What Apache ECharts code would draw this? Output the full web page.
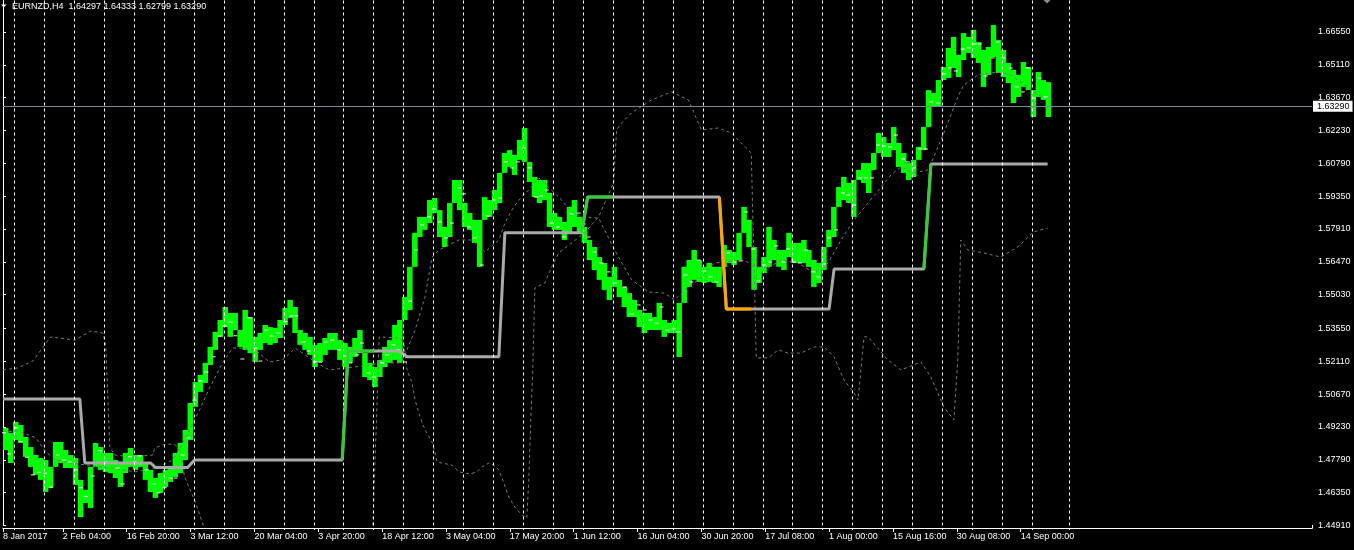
<!DOCTYPE html>
<html><head><meta charset="utf-8">
<script src="https://cdn.jsdelivr.net/npm/echarts@6/dist/echarts.min.js"></script>
<style>html,body{margin:0;padding:0;background:#000;}#c{width:1354px;height:550px;}</style>
</head><body><div id="c"></div>
<script>
const chartTitle = 'EURNZD,H4  1.64297 1.64333 1.62799 1.63290';
const lastPrice = 1.63290;
const timeLabels = ['8 Jan 2017','2 Feb 04:00','16 Feb 20:00','3 Mar 12:00','20 Mar 04:00','3 Apr 20:00','18 Apr 12:00','3 May 04:00','17 May 20:00','1 Jun 12:00','16 Jun 04:00','30 Jun 20:00','17 Jul 08:00','1 Aug 00:00','15 Aug 16:00','30 Aug 08:00','14 Sep 00:00'];
const timeLabelBars = [0,60,124,188,252,316,380,444,508,572,636,700,764,828,892,956,1020];
const priceLabels = [1.44910,1.46350,1.47790,1.49230,1.50670,1.52110,1.53550,1.55030,1.56470,1.57910,1.59350,1.60790,1.62230,1.63670,1.65110,1.66550];
const gridLineBars = [11.5,41.5,71.5,101.5,131.5,161.5,191.5,221.5,251.5,281.5,311.5,341.5,371.5,401.5,431.5,461.5,491.5,521.5,551.5,581.5,611.5,641.5,671.5,701.5,731.5,761.5,791.5,821.5,851.5,881.5,911.5,941.5,971.5,1001.5,1031.5,1068.5];
const priceMin = 1.44910, priceMax = 1.67950;
const barSpan = 5;
// price range per 5-bar bucket (bar index of bucket start)
const barX = [0,5,10,15,20,25,30,35,40,45,50,55,60,65,70,75,80,85,90,95,100,105,110,115,120,125,130,135,140,145,150,155,160,165,170,175,180,185,190,195,200,205,210,215,220,225,230,235,240,245,250,255,260,265,270,275,280,285,290,295,300,305,310,315,320,325,330,335,340,345,350,355,360,365,370,375,380,385,390,395,400,405,410,415,420,425,430,435,440,445,450,455,460,465,470,475,480,485,490,495,500,505,510,515,520,525,530,535,540,545,550,555,560,565,570,575,580,585,590,595,600,605,610,615,620,625,630,635,640,645,650,655,660,665,670,675,680,685,690,695,700,705,710,715,720,725,730,735,740,745,750,755,760,765,770,775,780,785,790,795,800,805,810,815,820,825,830,835,840,845,850,855,860,865,870,875,880,885,890,895,900,905,910,915,920,925,930,935,940,945,950,955,960,965,970,975,980,985,990,995,1000,1005,1010,1015,1020,1025,1030,1035,1040,1045];
const barHigh = [1.4919,1.4897,1.4945,1.4932,1.4879,1.4835,1.4800,1.4787,1.4778,1.4704,
1.4857,1.4857,1.4822,1.4800,1.4787,1.4691,1.4647,1.4748,1.4853,1.4835,
1.4809,1.4809,1.4778,1.4765,1.4809,1.4831,1.4800,1.4800,1.4765,1.4735,
1.4699,1.4721,1.4735,1.4748,1.4809,1.4853,1.4910,1.5028,1.5120,1.5151,
1.5204,1.5274,1.5340,1.5392,1.5449,1.5423,1.5423,1.5348,1.5436,1.5405,
1.5318,1.5335,1.5370,1.5361,1.5357,1.5392,1.5445,1.5480,1.5449,1.5348,
1.5335,1.5318,1.5283,1.5291,1.5313,1.5335,1.5335,1.5304,1.5291,1.5274,
1.5313,1.5348,1.5247,1.5204,1.5186,1.5217,1.5274,1.5304,1.5370,1.5348,
1.5493,1.5537,1.5774,1.5844,1.5844,1.5918,1.5927,1.5874,1.5800,1.5861,
1.6006,1.6006,1.5905,1.5861,1.5831,1.5743,1.5931,1.5918,1.5962,1.5962,
1.6124,1.6137,1.6116,1.6181,1.6234,1.6085,1.6019,1.6006,1.6006,1.5949,
1.5861,1.5844,1.5822,1.5888,1.5918,1.5844,1.5800,1.5743,1.5712,1.5668,
1.5642,1.5581,1.5625,1.5568,1.5537,1.5510,1.5480,1.5436,1.5423,1.5423,
1.5405,1.5467,1.5392,1.5379,1.5392,1.5379,1.5625,1.5655,1.5699,1.5655,
1.5625,1.5642,1.5625,1.5625,1.5721,1.5699,1.5690,1.5774,1.5888,1.5831,
1.5712,1.5625,1.5668,1.5800,1.5743,1.5699,1.5699,1.5774,1.5730,1.5730,
1.5743,1.5699,1.5655,1.5642,1.5699,1.5787,1.5888,1.5975,1.6019,1.5993,
1.5993,1.6050,1.6080,1.6080,1.6124,1.6212,1.6194,1.6168,1.6238,1.6168,
1.6124,1.6080,1.6094,1.6151,1.6194,1.6400,1.6387,1.6414,1.6501,1.6585,
1.6633,1.6554,1.6650,1.6633,1.6664,1.6611,1.6576,1.6589,1.6685,1.6620,
1.6576,1.6519,1.6488,1.6466,1.6523,1.6501,1.6400,1.6479,1.6444,1.6435];
const barLow = [1.4822,1.4765,1.4866,1.4853,1.4792,1.4748,1.4713,1.4691,1.4638,1.4656,
1.4748,1.4765,1.4743,1.4743,1.4669,1.4528,1.4590,1.4568,1.4748,1.4735,
1.4726,1.4721,1.4699,1.4660,1.4721,1.4748,1.4735,1.4748,1.4691,1.4638,
1.4612,1.4634,1.4660,1.4682,1.4704,1.4721,1.4778,1.4866,1.5011,1.5077,
1.5116,1.5195,1.5261,1.5318,1.5361,1.5318,1.5348,1.5274,1.5261,1.5247,
1.5208,1.5261,1.5291,1.5283,1.5291,1.5313,1.5370,1.5401,1.5335,1.5283,
1.5261,1.5239,1.5186,1.5208,1.5239,1.5261,1.5261,1.5217,1.5186,1.5204,
1.5230,1.5247,1.5142,1.5129,1.5098,1.5142,1.5186,1.5204,1.5217,1.5204,
1.5392,1.5436,1.5625,1.5756,1.5787,1.5817,1.5861,1.5756,1.5712,1.5756,
1.5905,1.5874,1.5800,1.5787,1.5730,1.5625,1.5831,1.5844,1.5874,1.5905,
1.6037,1.6063,1.6028,1.6094,1.6107,1.5997,1.5931,1.5905,1.5918,1.5800,
1.5787,1.5787,1.5743,1.5774,1.5800,1.5774,1.5730,1.5655,1.5611,1.5568,
1.5524,1.5480,1.5537,1.5493,1.5449,1.5405,1.5405,1.5361,1.5335,1.5348,
1.5348,1.5348,1.5318,1.5335,1.5335,1.5230,1.5467,1.5537,1.5568,1.5559,
1.5554,1.5559,1.5554,1.5537,1.5625,1.5642,1.5633,1.5655,1.5774,1.5712,
1.5524,1.5554,1.5598,1.5625,1.5655,1.5625,1.5611,1.5668,1.5642,1.5642,
1.5642,1.5625,1.5537,1.5554,1.5611,1.5712,1.5756,1.5888,1.5918,1.5905,
1.5844,1.6006,1.5993,1.5949,1.6050,1.6124,1.6107,1.6107,1.6137,1.6063,
1.6037,1.6006,1.6019,1.6094,1.6137,1.6238,1.6326,1.6326,1.6444,1.6453,
1.6497,1.6457,1.6532,1.6563,1.6541,1.6519,1.6414,1.6466,1.6545,1.6475,
1.6457,1.6431,1.6343,1.6370,1.6414,1.6400,1.6282,1.6370,1.6357,1.6282];
// white daily markers
const markX = [1,6,13,18,24,30,36,42,48,55,61,67,73,78,83,90,97,103,108,115,120,127,132,137,144,151,156,162,168,173,180,186,192,198,204,211,217,222,228,233,240,247,253,258,264,269,276,283,289,294,301,306,313,318,324,330,337,343,348,355,360,366,372,380,385,391,396,403,408,414,420,427,432,438,444,450,457,462,467,473,480,486,492,498,504,510,516,522,528,534,539,545,550,556,562,570,577,582,587,593,600,607,613,623,630,637,643,649,655,660,666,672,677,684,690,697,703,709,715,727,733,739,745,752,757,763,769,775,782,787,793,799,805,812,817,823,828,835,842,847,853,859,865,871,877,883,889,895,902,907,913,919,925,930,937,943,949,955,962,968,974,979,985,992,997,1003,1010,1016,1022,1027,1033,1039,1045];
const markY = [1.4898,1.4805,1.4920,1.4859,1.4790,1.4713,1.4724,1.4720,1.4659,1.4800,1.4778,1.4770,1.4735,1.4657,1.4618,1.4708,1.4819,1.4770,1.4765,1.4743,1.4673,1.4793,1.4770,1.4796,1.4735,1.4673,1.4634,1.4657,1.4699,1.4699,1.4800,1.4875,1.5041,1.5125,1.5164,1.5231,1.5322,1.5366,1.5383,1.5323,1.5221,1.5401,1.5269,1.5212,1.5348,1.5322,1.5335,1.5385,1.5410,1.5410,1.5296,1.5256,1.5209,1.5207,1.5296,1.5304,1.5261,1.5234,1.5204,1.5239,1.5291,1.5160,1.5142,1.5204,1.5239,1.5283,1.5261,1.5208,1.5475,1.5699,1.5809,1.5844,1.5879,1.5822,1.5752,1.5817,1.5971,1.5945,1.5800,1.5752,1.5633,1.5848,1.5918,1.5927,1.6085,1.6059,1.6085,1.6146,1.6059,1.5931,1.5936,1.5962,1.5817,1.5800,1.5756,1.5857,1.5861,1.5813,1.5756,1.5690,1.5642,1.5603,1.5554,1.5537,1.5418,1.5458,1.5436,1.5392,1.5379,1.5449,1.5348,1.5353,1.5340,1.5589,1.5559,1.5655,1.5607,1.5581,1.5559,1.5686,1.5646,1.5651,1.5866,1.5703,1.5563,1.5633,1.5646,1.5717,1.5646,1.5703,1.5646,1.5642,1.5699,1.5603,1.5581,1.5638,1.5752,1.5787,1.5949,1.5940,1.5896,1.6015,1.6015,1.6015,1.6159,1.6155,1.6151,1.6203,1.6098,1.6085,1.6059,1.6142,1.6142,1.6348,1.6343,1.6471,1.6497,1.6484,1.6580,1.6585,1.6602,1.6602,1.6462,1.6541,1.6611,1.6541,1.6497,1.6414,1.6392,1.6497,1.6365,1.6453,1.6370];
// thick step indicator
const stepX = [0,77,82,148,153,185,192,340,346,397,405,497,503,580,586,718,725,828,833,923,930,1047];
const stepY = [1.5046,1.5046,1.4765,1.4765,1.4745,1.4745,1.4778,1.4778,1.5256,1.5256,1.5231,1.5231,1.5775,1.5775,1.5931,1.5931,1.5440,1.5440,1.5616,1.5616,1.6076,1.6076];
const stepUpX = [340,346,372,null,580,586,611,null,923,930];
const stepUpY = [1.4778,1.5256,1.5256,null,1.5775,1.5931,1.5931,null,1.5616,1.6076];
const stepDownX = [718,725,750];
const stepDownY = [1.5931,1.5440,1.5440];
// dotted indicator lines
const outerX = [0,15,30,43,48,72,88,100,103,107,112,130,150,152,160,167,173,178,182,192,202,210,370,375,377,398,402,405,410,413,418,423,430,433,435,440,450,457,468,475,480,487,492,497,502,507,513,520,525,527,529,531,533,543,550,557,583,597,612,615,620,630,650,670,687,700,717,730,747,750,755,767,777,787,800,813,823,833,843,853,857,863,867,887,900,920,930,943,953,957,960,967,983,1000,1017,1033,1047];
const outerY = [1.5173,1.5182,1.5212,1.5291,1.5318,1.5304,1.5344,1.5335,1.5283,1.4835,1.4800,1.4792,1.4800,1.4831,1.4844,1.4848,1.4844,1.4809,1.4704,1.4603,1.4476,1.4406,1.4406,1.5041,1.5318,1.5313,1.5283,1.5173,1.5116,1.5041,1.4967,1.4910,1.4857,1.4813,1.4770,1.4765,1.4756,1.4726,1.4717,1.4726,1.4748,1.4765,1.4756,1.4735,1.4678,1.4616,1.4572,1.4537,1.4524,1.4691,1.4954,1.5173,1.5532,1.5554,1.5625,1.5686,1.5774,1.5844,1.5993,1.6225,1.6256,1.6300,1.6357,1.6392,1.6357,1.6225,1.6234,1.6212,1.6137,1.6124,1.5226,1.5226,1.5261,1.5247,1.5247,1.5274,1.5274,1.5230,1.5129,1.5072,1.5041,1.5318,1.5318,1.5217,1.5173,1.5208,1.5142,1.5011,1.4954,1.5217,1.5743,1.5699,1.5686,1.5668,1.5712,1.5778,1.5795];
const midX = [0,15,33,43,53,67,100,133,157,170,182,197,207,220,230,240,253,267,280,293,313,327,343,360,380,397,402,413,423,430,437,457,470,483,497,503,510,517,527,537,560,570,583,597,613,630,647,663,673,687,697,713,743,753,767,780,797,813,827,840,853,867,880,890,900,913,927,933,940,947,957,963,977,997,1010,1027,1037,1047];
const midY = [1.4901,1.4906,1.4875,1.4813,1.4778,1.4765,1.4748,1.4726,1.4748,1.4778,1.4866,1.4998,1.5094,1.5204,1.5269,1.5269,1.5261,1.5208,1.5217,1.5269,1.5208,1.5173,1.5182,1.5190,1.5204,1.5204,1.5230,1.5348,1.5493,1.5668,1.5699,1.5743,1.5743,1.5690,1.5743,1.5817,1.5874,1.5918,1.5962,1.6015,1.5918,1.5861,1.5844,1.5839,1.5699,1.5568,1.5515,1.5510,1.5480,1.5537,1.5568,1.5642,1.5655,1.5625,1.5620,1.5655,1.5642,1.5598,1.5642,1.5743,1.5831,1.5905,1.5975,1.6028,1.6063,1.6037,1.6050,1.6107,1.6181,1.6256,1.6370,1.6422,1.6466,1.6479,1.6466,1.6414,1.6378,1.6365];

const FONT = '"Liberation Sans", Arial, sans-serif';
const pairs = (xs, ys) => xs.map((x, i) => (x === null ? null : [x, ys[i]]));
const labelMap = {};
timeLabelBars.forEach((b, i) => { labelMap[b] = timeLabels[i]; });

const chart = echarts.init(document.getElementById('c'), null, {renderer: 'canvas'});
chart.setOption({
  backgroundColor: '#000',
  animation: false,
  grid: {left: 0, right: 42, top: 0, bottom: 24.5, containLabel: false},
  xAxis: [{
    type: 'value', min: 0, max: 1312, offset: 2.5, position: 'bottom',
    axisLine: {show: true, lineStyle: {color: '#fff', width: 1}},
    axisTick: {show: true, customValues: timeLabelBars, length: 4, lineStyle: {color: '#fff'}},
    axisLabel: {show: true, customValues: timeLabelBars, color: '#fff', fontSize: 9, fontFamily: FONT, align: 'left', margin: 4,
      formatter: v => labelMap[v] || ''},
    splitLine: {show: false}
  }, {
    type: 'value', min: 0, max: 1312, offset: 2.5, position: 'bottom',
    axisLine: {show: false},
    axisTick: {show: true, customValues: gridLineBars, length: 2, lineStyle: {color: '#fff'}},
    axisLabel: {show: false},
    splitLine: {show: false}
  }],
  yAxis: {
    type: 'value', position: 'right', min: priceMin, max: priceMax,
    axisLine: {show: true, lineStyle: {color: '#fff', width: 1}},
    axisTick: {show: true, length: 3, customValues: priceLabels, lineStyle: {color: '#fff'}},
    axisLabel: {color: '#fff', fontSize: 9, fontFamily: FONT, margin: 6, customValues: priceLabels,
      formatter: v => v.toFixed(5)},
    splitLine: {show: false}
  },
  graphic: [
    {type: 'polygon', shape: {points: [[1, 4.5], [6.5, 4.5], [3.75, 7.5]]}, style: {fill: '#fff'}, z: 100},
    {type: 'text', left: 12, top: 2, style: {text: chartTitle, fill: '#fff', fontSize: 9, fontFamily: FONT}, z: 100},
    {type: 'polygon', shape: {points: [[1043.5, 0], [1050.5, 0], [1047, 3.5]]}, style: {fill: '#8c8c8c'}, z: 100},
    {type: 'line', shape: {x1: 1312.5, y1: 525, x2: 1312.5, y2: 528.5}, style: {stroke: '#fff', lineWidth: 1}, z: 100}
  ],
  series: [
    {
      type: 'line', data: [], z: 1, silent: true,
      markLine: {silent: true, symbol: ['none', 'none'], label: {show: false}, animation: false, precision: 2,
        lineStyle: {color: '#ffffff', type: [3, 3], width: 1},
        data: gridLineBars.map(v => ({xAxis: v}))}
    },
    {
      type: 'custom', z: 2, silent: true,
      data: barX.map((x, i) => [x, barHigh[i], barLow[i]]),
      encode: {x: 0, y: [1, 2]},
      renderItem: (params, api) => {
        const i = params.dataIndex;
        const x = api.value(0);
        let hi = api.value(1), lo = api.value(2);
        if (i + 1 < barX.length) {
          const nh = barHigh[i + 1], nl = barLow[i + 1];
          if (nl > hi) hi = nl;
          if (nh < lo) lo = nh;
        }
        const p1 = api.coord([x, hi]);
        const p2 = api.coord([x + barSpan, lo]);
        return {type: 'rect', shape: {x: p1[0], y: p1[1], width: p2[0] - p1[0] + 0.5, height: Math.max(1, p2[1] - p1[1])},
          style: {fill: '#00ff00'}};
      }
    },
    {type: 'scatter', z: 3, silent: true, symbol: 'rect', symbolSize: [4, 1.2],
      itemStyle: {color: '#ffffff'}, data: pairs(markX, markY)},
    {type: 'line', z: 3, silent: true, symbol: 'none', data: pairs(outerX, outerY),
      lineStyle: {color: '#7a7a7a', width: 1, type: [3, 3]}},
    {type: 'line', z: 3, silent: true, symbol: 'none', data: pairs(midX, midY),
      lineStyle: {color: '#7a7a7a', width: 1, type: [3, 3]}},
    {type: 'line', z: 4, silent: true, symbol: 'none', data: pairs(stepX, stepY),
      lineStyle: {color: '#aaaaaa', width: 3}},
    {type: 'line', z: 5, silent: true, symbol: 'none', connectNulls: false, data: pairs(stepUpX, stepUpY),
      lineStyle: {color: '#32cd32', width: 3}},
    {type: 'line', z: 5, silent: true, symbol: 'none', data: pairs(stepDownX, stepDownY),
      lineStyle: {color: '#ffa500', width: 3}},
    {
      type: 'line', data: [], z: 6, silent: true,
      markLine: {silent: true, symbol: ['none', 'none'], animation: false, precision: 5,
        lineStyle: {color: '#778899', type: 'solid', width: 1},
        label: {show: true, position: 'end', distance: 1, formatter: () => lastPrice.toFixed(5), color: '#000',
          backgroundColor: '#fff', padding: [1, 3, 1, 4], fontSize: 9, fontFamily: FONT},
        data: [{yAxis: lastPrice}]}
    }
  ]
});
</script>
</body></html>
